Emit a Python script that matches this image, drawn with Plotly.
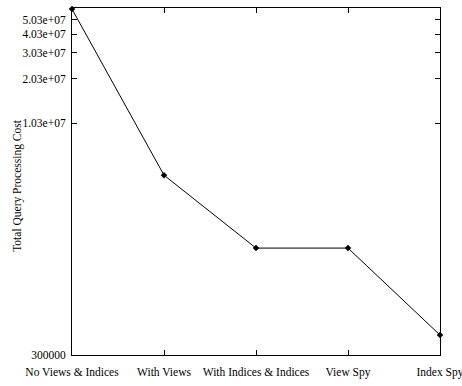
import math
import plotly.graph_objects as go

categories = ["No Views & Indices", "With Views", "With Indices & Indices", "View Spy", "Index Spy"]
costs = [5.9e7, 4.67e6, 1.535e6, 1.535e6, 4.07e5]
ytick_vals = [3e5, 1.03e7, 2.03e7, 3.03e7, 4.03e7, 5.03e7]
ytick_text = ["300000", "1.03e+07", "2.03e+07", "3.03e+07", "4.03e+07", "5.03e+07"]
y_title = "Total Query Processing Cost"

FONT = "Liberation Serif, Times New Roman, serif"

fig = go.Figure()
fig.add_trace(go.Scatter(
    x=list(range(len(categories))), y=costs, mode="lines+markers",
    line=dict(color="black", width=1),
    marker=dict(symbol="diamond", size=5, color="black"),
    cliponaxis=False, showlegend=False,
))

fig.update_layout(
    width=462, height=386,
    margin=dict(l=72, r=22, t=8, b=31, autoexpand=False),
    paper_bgcolor="white", plot_bgcolor="white",
    font=dict(family=FONT, size=11.5, color="black"),
    xaxis=dict(
        range=[0, len(categories) - 1],
        tickmode="array", tickvals=list(range(len(categories))), ticktext=categories,
        ticks="inside", ticklen=5, tickcolor="black", tickwidth=1,
        showline=True, linecolor="black", linewidth=1, mirror="ticks",
        showgrid=False, zeroline=False, ticklabelstandoff=6,
        ticklabeloverflow="allow",
        tickfont=dict(family=FONT, size=11.5, color="black"),
    ),
    yaxis=dict(
        type="log",
        range=[math.log10(3e5), 7.778],
        tickmode="array", tickvals=ytick_vals, ticktext=ytick_text,
        ticks="inside", ticklen=5, tickcolor="black", tickwidth=1,
        showline=True, linecolor="black", linewidth=1, mirror="ticks",
        showgrid=False, zeroline=False, ticklabelstandoff=3,
        ticklabeloverflow="allow",
        tickfont=dict(family=FONT, size=11.5, color="black"),
    ),
    annotations=[dict(
        text=y_title, textangle=-90, xref="paper", yref="paper",
        x=-0.147, y=0.49, xanchor="center", yanchor="middle", showarrow=False,
        font=dict(family=FONT, size=11.5, color="black"),
    )],
)

fig.write_html(
    "out.html",
    config={"displayModeBar": False},
    post_script="document.body.style.margin='0';document.body.style.padding='0';",
)
